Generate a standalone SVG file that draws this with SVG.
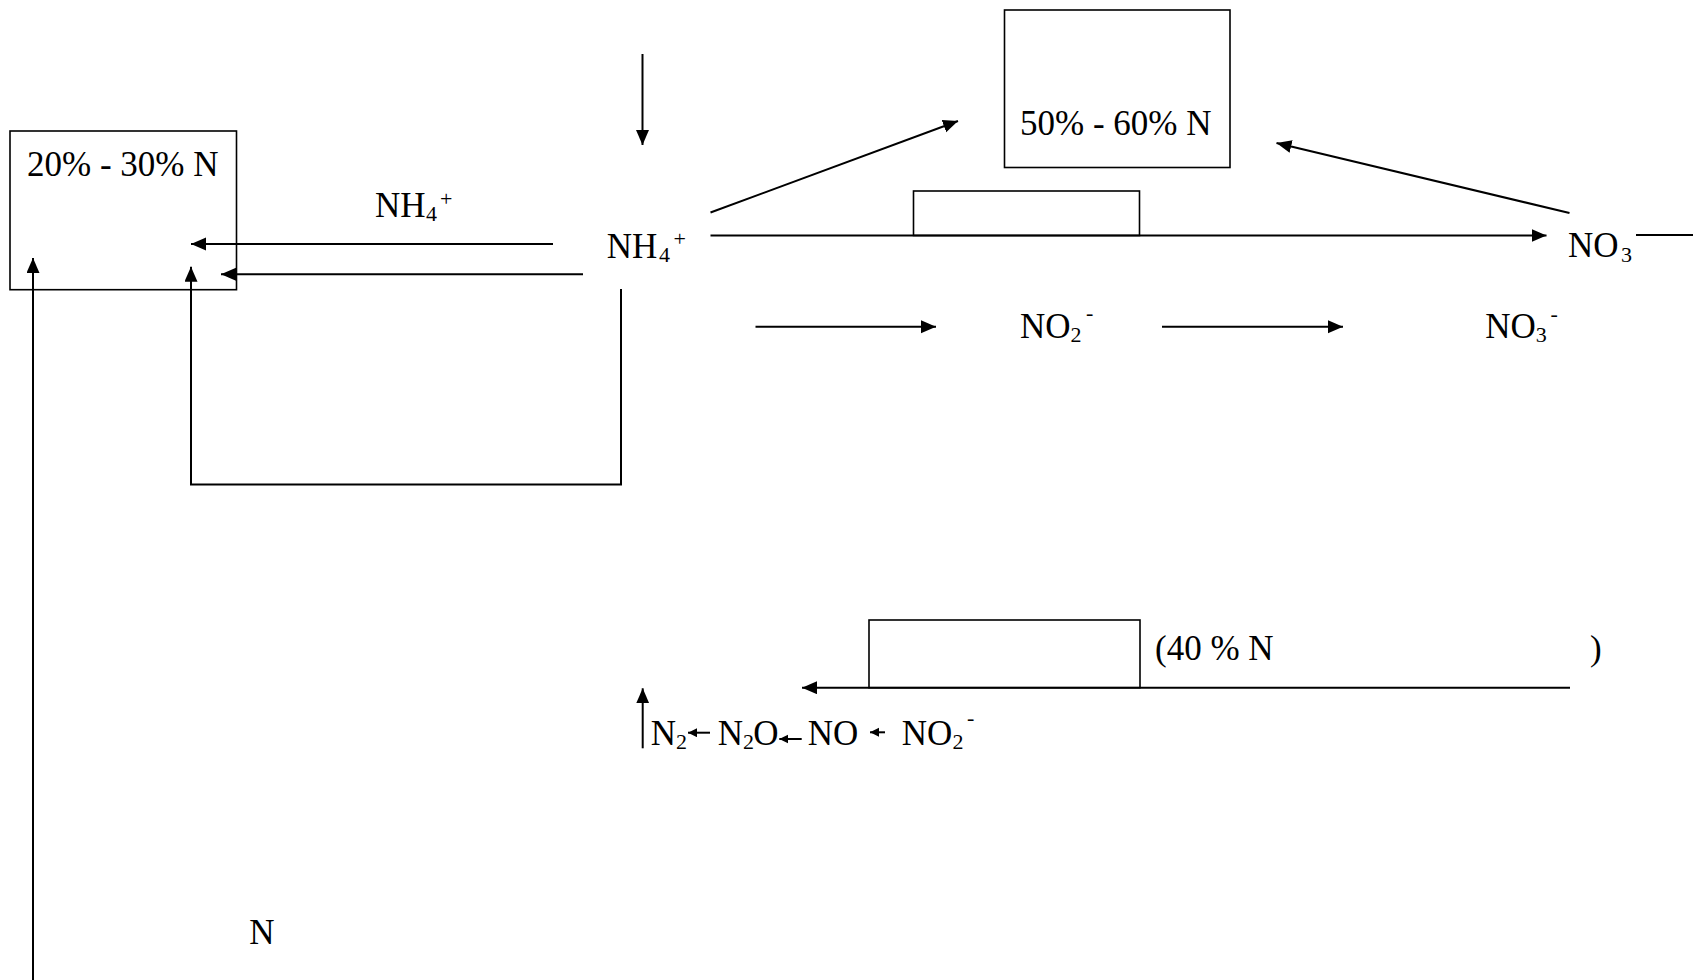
<svg xmlns="http://www.w3.org/2000/svg" width="1693" height="980" viewBox="0 0 1693 980">
<defs>
<style>
text{font-family:"Liberation Serif","Times New Roman",serif;font-size:35px;fill:#000}
.s{font-size:22px}
.box{fill:none;stroke:#000;stroke-width:1.6}
.ln{fill:none;stroke:#000;stroke-width:2}
</style>
<marker id="ah" markerUnits="userSpaceOnUse" markerWidth="16" markerHeight="14" refX="15" refY="6.5" orient="auto">
<path d="M0,0 L15,6.5 L0,13 z" fill="#000"/>
</marker>
<marker id="sah" markerUnits="userSpaceOnUse" markerWidth="10" markerHeight="10" refX="9" refY="4.5" orient="auto">
<path d="M0,0 L9,4.5 L0,9 z" fill="#000"/>
</marker>
</defs>
<rect width="1693" height="980" fill="#fff"/>

<g id="connectors">
<line class="ln" x1="642.5" y1="54" x2="642.5" y2="145" marker-end="url(#ah)"/>
<line class="ln" x1="553" y1="244" x2="191" y2="244" marker-end="url(#ah)"/>
<line class="ln" x1="583" y1="274.3" x2="221" y2="274.3" marker-end="url(#ah)"/>
<path class="ln" d="M621,289 V484.5 H191 V266.7" marker-end="url(#ah)"/>
<line class="ln" x1="33" y1="980" x2="33" y2="258" marker-end="url(#ah)"/>
<line class="ln" x1="710.5" y1="235.5" x2="1546.5" y2="235.5" marker-end="url(#ah)"/>
<line class="ln" x1="710.5" y1="212.5" x2="958" y2="121" marker-end="url(#ah)"/>
<line class="ln" x1="1569.5" y1="213" x2="1276.5" y2="143" marker-end="url(#ah)"/>
<line class="ln" x1="1636" y1="235" x2="1693" y2="235"/>
<line class="ln" x1="755.5" y1="326.7" x2="936" y2="326.7" marker-end="url(#ah)"/>
<line class="ln" x1="1162" y1="326.7" x2="1343" y2="326.7" marker-end="url(#ah)"/>
<line class="ln" x1="1570" y1="687.7" x2="802" y2="687.7" marker-end="url(#ah)"/>
<line class="ln" x1="642.7" y1="748.3" x2="642.7" y2="688.3" marker-end="url(#ah)"/>
<line class="ln" x1="710" y1="732.7" x2="688" y2="732.7" marker-end="url(#sah)"/>
<line class="ln" x1="801.7" y1="739" x2="779.3" y2="739" marker-end="url(#sah)"/>
<line class="ln" x1="885" y1="732.3" x2="870" y2="732.3" marker-end="url(#sah)"/>
</g>

<g id="box-left">
<rect class="box" x="10" y="131" width="226.5" height="158.7"/>
<text x="27" y="176">20% - 30% N</text>
</g>

<g id="box-top">
<rect class="box" x="1004.5" y="10" width="225.5" height="157.5"/>
<text x="1020" y="135">50% - 60% N</text>
</g>

<g id="box-upper-small">
<rect class="box" x="913.5" y="191" width="226" height="44.5"/>
</g>

<g id="box-lower">
<rect class="box" x="869" y="620" width="271" height="67.7"/>
</g>

<g id="label-nh4-upper">
<text x="375" y="216.7">NH</text>
<text class="s" x="426" y="221">4</text>
<text class="s" x="440" y="205.5">+</text>
</g>

<g id="label-nh4-center">
<text x="606.7" y="258">NH</text>
<text class="s" x="659" y="262">4</text>
<text class="s" x="673.5" y="245.5">+</text>
</g>

<g id="label-no3-right">
<text x="1568" y="256.7">NO</text>
<text class="s" x="1621" y="262">3</text>
</g>

<g id="label-no2-mid">
<text x="1020" y="338">NO</text>
<text class="s" x="1070.5" y="342">2</text>
<text class="s" x="1086" y="320">-</text>
</g>

<g id="label-no3-mid">
<text x="1485.3" y="338">NO</text>
<text class="s" x="1535.8" y="342">3</text>
<text class="s" x="1550.5" y="320.5">-</text>
</g>

<g id="label-40">
<text x="1155" y="660">(40 % N</text>
<text x="1590" y="660">)</text>
</g>

<g id="label-denit">
<text x="650.7" y="745">N</text>
<text class="s" x="676" y="749">2</text>
<text x="717.7" y="745">N</text>
<text class="s" x="743" y="749">2</text>
<text x="753.3" y="745">O</text>
<text x="807.7" y="745">NO</text>
<text x="901.7" y="745">NO</text>
<text class="s" x="952.5" y="749">2</text>
<text class="s" x="967" y="725">-</text>
</g>

<g id="label-n-bottom">
<text x="249.3" y="944">N</text>
</g>
</svg>
